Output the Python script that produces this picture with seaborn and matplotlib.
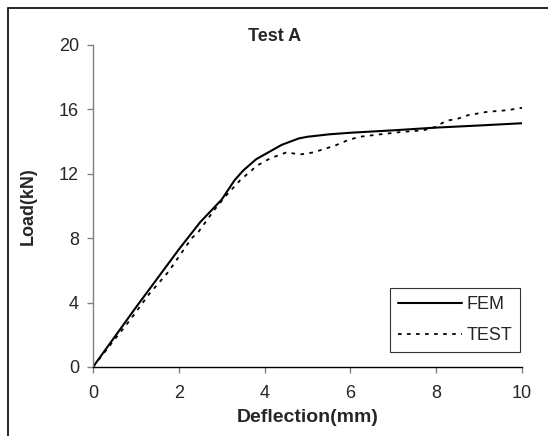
import pandas as pd
import seaborn as sns
import matplotlib
matplotlib.use('Agg')
import matplotlib.pyplot as plt
from matplotlib.patches import Rectangle


# values
fem_x = [0, 1, 2, 2.5, 3, 3.3, 3.5, 3.8, 4.0, 4.4, 4.8, 5.0, 5.5, 6, 7, 8, 9, 10]
fem_y = [0, 3.7, 7.3, 9.0, 10.4, 11.6, 12.2, 12.9, 13.2, 13.8, 14.2, 14.3,
         14.45, 14.55, 14.7, 14.87, 15.0, 15.14]

test_x = [0, 0.5, 0.86, 1.3, 1.76, 2.3, 2.46, 2.84, 3.12, 3.43, 3.82, 4.13,
          4.51, 4.83, 5.14, 5.64, 5.95, 6.22, 6.69, 7.19, 7.7, 7.97, 8.24,
          8.48, 8.75, 8.98, 9.21, 9.45, 9.68, 9.92, 10]
test_y = [0, 1.7, 2.9, 4.5, 5.92, 8.0, 8.4, 9.8, 10.7, 11.6, 12.5, 12.96,
          13.33, 13.2, 13.33, 13.75, 14.1, 14.3, 14.45, 14.6, 14.7, 14.9, 15.3,
          15.4, 15.65, 15.75, 15.86, 15.9, 15.96, 16.06, 16.1]

x_ticks = [0, 2, 4, 6, 8, 10]
y_ticks = [0, 4, 8, 12, 16, 20]

sns.set_style('ticks')
plt.rcParams['font.family'] = ['Liberation Sans', 'DejaVu Sans']

fig = plt.figure(figsize=(5.48, 4.36), dpi=100)
ax = fig.add_axes([0.1697, 0.1583, 0.7829, 0.7385])

sns.lineplot(x=fem_x, y=fem_y, ax=ax, color='black', lw=1.5,
             sort=False, label='FEM')
sns.lineplot(x=test_x, y=test_y, ax=ax, color='black', lw=1.3,
             sort=False, label='TEST', linestyle=(0, (2, 3)))

ax.set_xlim(0, 10)
ax.set_ylim(0, 20)
ax.set_xticks(x_ticks)
ax.set_yticks(y_ticks)
ax.tick_params(axis='both', labelsize=13, length=4, width=1, direction='out',
               color='#808080')
ax.tick_params(axis='x', pad=9)
ax.tick_params(axis='y', pad=6)
for side in ['top', 'right']:
    ax.spines[side].set_visible(False)
ax.spines['left'].set_color('#808080')
ax.spines['bottom'].set_color('black')
ax.spines['left'].set_linewidth(1)
ax.spines['bottom'].set_linewidth(1)

ax.set_xlabel('Deflection(mm)', fontsize=14, fontweight='bold', labelpad=5)
ax.set_ylabel('Load(kN)', fontsize=13, fontweight='bold', labelpad=16)
ax.set_title('Test A', fontsize=13, fontweight='bold', x=0.424, pad=-3)

leg = ax.legend(loc='lower right', bbox_to_anchor=(0.9953, 0.0466),
                borderaxespad=0, fontsize=13, frameon=True, fancybox=False,
                handlelength=3.5, handletextpad=0.25, borderpad=0.45,
                labelspacing=0.75)
leg.get_frame().set_edgecolor('black')
leg.get_frame().set_linewidth(0.8)

fig.patches.append(Rectangle((8 / 548, -0.1), 1.2, 1 - 8 / 436 + 0.1,
                             transform=fig.transFigure, fill=False,
                             edgecolor='black', lw=1.2))

fig.savefig('out.png', dpi=100)
